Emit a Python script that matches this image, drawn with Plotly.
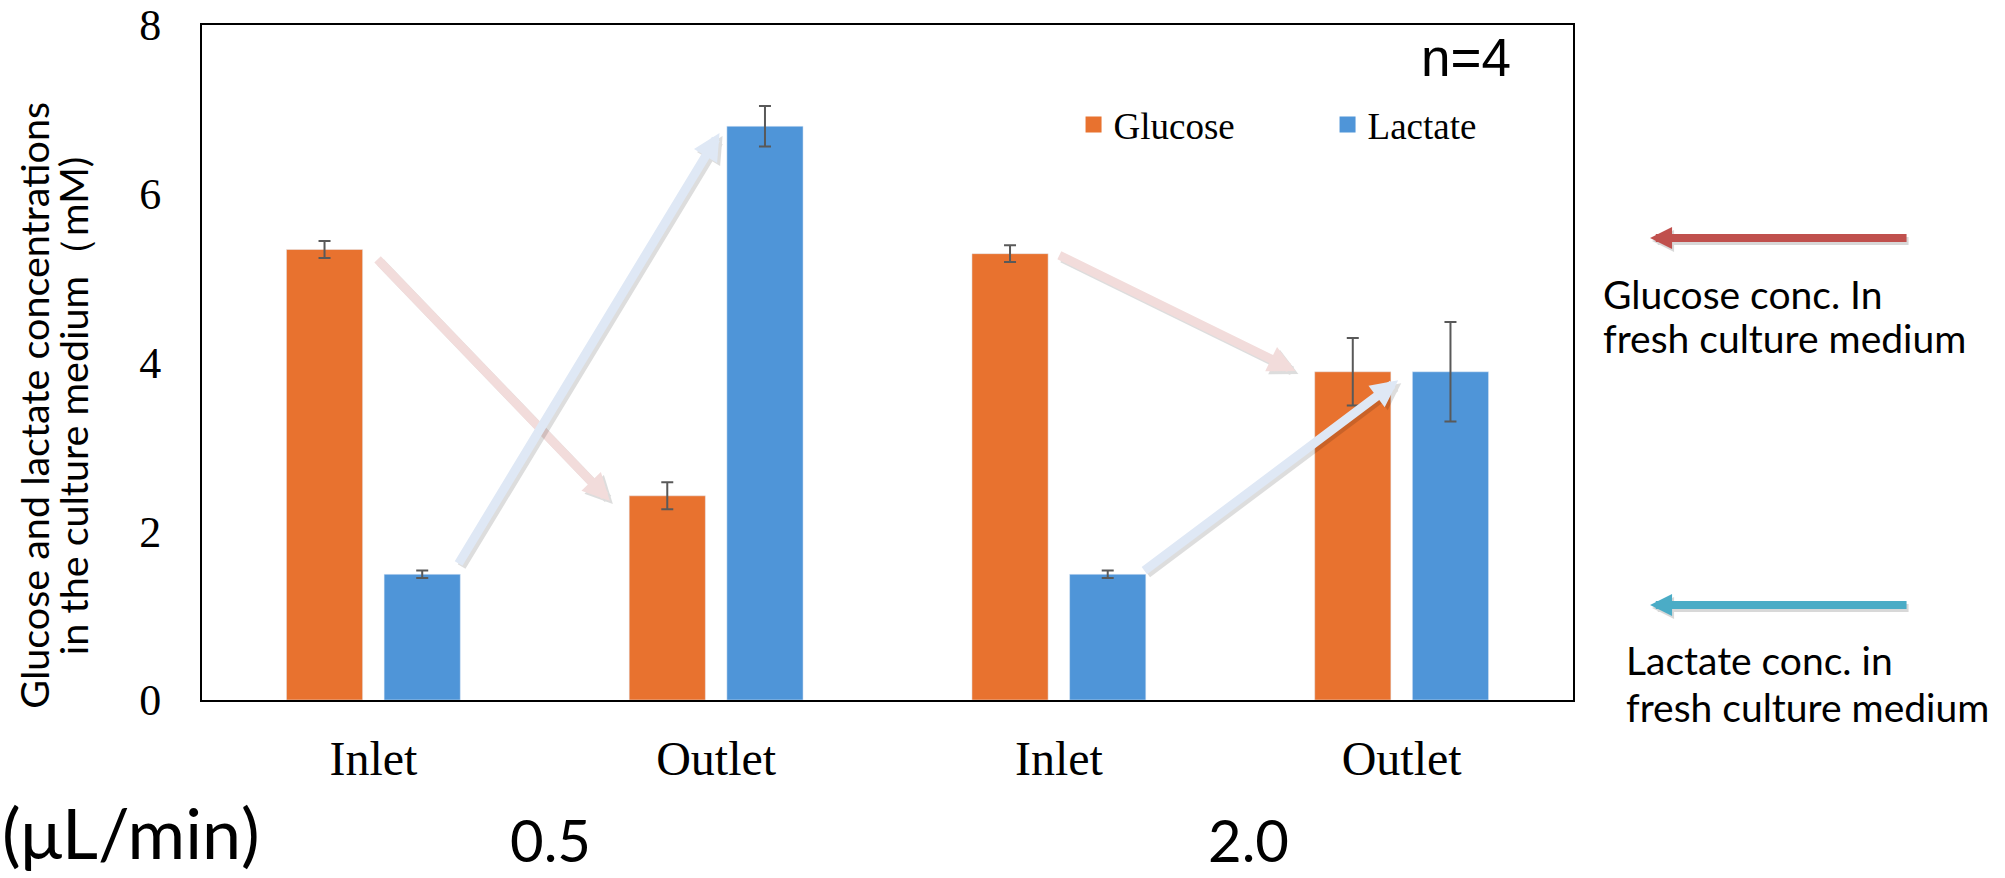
import plotly.graph_objects as go

# Sampling points along the microchannel, two flow rates
categories = ["Inlet", "Outlet", "Inlet", "Outlet"]
cat_pos = [0, 1, 2, 3]
flow_rates = ["0.5", "2.0"]

# Mean concentrations (mM) and error (SD), n=4
glucose = [5.34, 2.42, 5.29, 3.89]
glucose_err = [0.10, 0.16, 0.10, 0.40]
lactate = [1.49, 6.80, 1.49, 3.89]
lactate_err = [0.045, 0.24, 0.044, 0.59]

ORANGE = "#E8722F"
BLUE = "#4F95D8"
ERR = "#595959"
SERIF = "Liberation Serif"
SANS = "Lato"

fig = go.Figure()
fig.add_trace(go.Bar(
    x=cat_pos, y=glucose, name="Glucose", marker_color=ORANGE, showlegend=False,
    error_y=dict(type="data", array=glucose_err, color=ERR, thickness=2, width=6),
))
fig.add_trace(go.Bar(
    x=cat_pos, y=lactate, name="Lactate", marker_color=BLUE, showlegend=False,
    error_y=dict(type="data", array=lactate_err, color=ERR, thickness=2, width=6),
))
# legend keys (square swatches)
for nm, col in [("Glucose", ORANGE), ("Lactate", BLUE)]:
    fig.add_trace(go.Scatter(x=[None], y=[None], mode="markers", name=nm,
                             marker=dict(symbol="square", size=16, color=col)))

annotations = []

# trend arrows between inlet and outlet (with soft drop shadow)
trend_arrows = [
    # (tail x, tail y, head x, head y, colour)
    (0.008, 5.24, 0.69, 2.36, "#F2DCDB"),
    (0.246, 1.60, 1.01, 6.72, "#DFE8F5"),
    (1.997, 5.28, 2.69, 3.90, "#F2DCDB"),
    (2.245, 1.52, 2.99, 3.79, "#DFE8F5"),
]
for tx, ty, hx, hy, col in trend_arrows:
    for shift, c in [((3, -3), "rgba(0,0,0,0.13)"), ((0, 0), col)]:
        annotations.append(dict(
            x=hx, y=hy, ax=tx, ay=ty, xref="x", yref="y", axref="x", ayref="y",
            text="", showarrow=True, arrowhead=2, arrowsize=0.6, arrowwidth=9,
            arrowcolor=c, xshift=shift[0], yshift=shift[1],
        ))

# fresh-medium reference arrows on the right
for yp, col in [(0.6844, "#C0504D"), (0.1407, "#4BACC6")]:
    for shift, c in [((2, -3), "rgba(0,0,0,0.15)"), ((0, 0), col)]:
        annotations.append(dict(
            x=1.0562, y=yp, xref="paper", yref="paper", ax=258, ay=0,
            text="", showarrow=True, arrowhead=2, arrowsize=0.55, arrowwidth=8,
            arrowcolor=c, xshift=shift[0], yshift=shift[1],
        ))

side_text = [
    ("Glucose conc. In", 1.0204, 0.602),
    ("fresh culture medium", 1.0204, 0.537),
    ("Lactate conc. in", 1.037, 0.0593),
    ("fresh culture medium", 1.037, -0.0104),
]
for t, xp, yp in side_text:
    annotations.append(dict(text=t, x=xp, y=yp, xref="paper", yref="paper",
                            xanchor="left", yanchor="middle", showarrow=False,
                            font=dict(family=SANS, size=39, color="black")))

# y-axis title, two rotated lines
for t, xp in [("Glucose and lactate concentrations", -0.1225),
              ("in the culture medium（mM)", -0.0945)]:
    annotations.append(dict(text=t, x=xp, y=0.436, xref="paper", yref="paper",
                            textangle=-90, xanchor="center", yanchor="middle",
                            showarrow=False,
                            font=dict(family=SANS, size=39.5, color="black")))

annotations.append(dict(text="n=4", x=0.8875, y=0.952, xref="paper", yref="paper",
                        xanchor="left", yanchor="middle", showarrow=False,
                        font=dict(family="Liberation Sans", size=53, color="black")))

# flow-rate row under the categories
annotations.append(dict(text="(μL/min)", x=-0.1473, y=-0.2607, xref="paper", yref="paper",
                        xanchor="left", yanchor="bottom", showarrow=False,
                        font=dict(family=SANS, size=70, color="black")))
for t, xd in zip(flow_rates, [0.518, 2.552]):
    annotations.append(dict(text=t, x=xd, y=-0.2607, xref="x", yref="paper",
                            xanchor="center", yanchor="bottom", showarrow=False,
                            font=dict(family=SANS, size=58, color="black")))

fig.update_layout(
    width=2005, height=878,
    margin=dict(l=202, r=432, t=25, b=178, autoexpand=False),
    paper_bgcolor="white", plot_bgcolor="white",
    barmode="group", bargap=0.43, bargroupgap=0.22,
    annotations=annotations,
    legend=dict(orientation="h", x=0.6357, y=0.852, xanchor="left", yanchor="middle",
                font=dict(family=SERIF, size=37, color="black"),
                bgcolor="rgba(0,0,0,0)", entrywidth=209, entrywidthmode="pixels"),
    xaxis=dict(range=[-0.5, 3.5], tickvals=cat_pos, ticktext=categories,
               showline=True, mirror=True, linecolor="black", linewidth=2,
               showgrid=False, zeroline=False, ticks="", ticklabelstandoff=15,
               automargin=False,
               tickfont=dict(family=SERIF, size=48, color="black")),
    yaxis=dict(range=[0, 8], dtick=2, showline=True, mirror=True, linecolor="black",
               linewidth=2, showgrid=False, zeroline=False, ticks="",
               ticklabelstandoff=30, automargin=False,
               tickfont=dict(family=SERIF, size=44, color="black")),
)

fig.write_html("out.html")
